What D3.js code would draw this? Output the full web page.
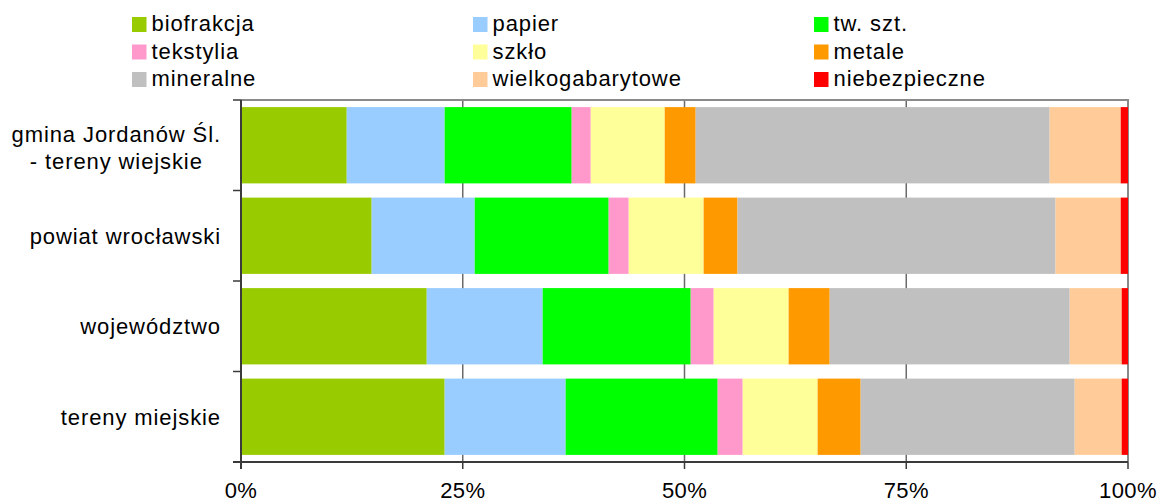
<!DOCTYPE html>
<html>
<head>
<meta charset="utf-8">
<script src="https://cdn.jsdelivr.net/npm/d3@7"></script>
<style>
  html, body { margin: 0; padding: 0; background: #fff; }
  svg { display: block; font-family: "Liberation Sans", Arial, Helvetica, sans-serif; }
</style>
</head>
<body>
<svg id="chart" width="1161" height="504"></svg>
<script>
// Waste composition by area (percent shares of each fraction)
const categories = ["gmina Jordanów Śl. - tereny wiejskie", "powiat wrocławski", "województwo", "tereny miejskie"];
const categoryLines = [["gmina Jordanów Śl.", "- tereny wiejskie"], ["powiat wrocławski"], ["województwo"], ["tereny miejskie"]];

const seriesNames = ["biofrakcja", "papier", "tw. szt.", "tekstylia", "szkło", "metale", "mineralne", "wielkogabarytowe", "niebezpieczne"];
const seriesColors = ["#99CC00", "#99CCFF", "#00FF00", "#FF99CC", "#FFFF99", "#FF9900", "#C0C0C0", "#FFCC99", "#FF0000"];

const biofrakcja       = [11.92, 14.73, 20.94, 22.96];
const papier           = [11.04, 11.62, 13.07, 13.64];
const twSzt            = [14.32, 15.10, 16.69, 17.14];
const tekstylia        = [2.15, 2.26, 2.59, 2.82];
const szklo            = [8.34, 8.45, 8.45, 8.45];
const metale           = [3.49, 3.82, 4.63, 4.85];
const mineralne        = [39.91, 35.85, 27.06, 24.13];
const wielkogabarytowe = [8.01, 7.35, 5.86, 5.30];
const niebezpieczne    = [0.82, 0.82, 0.71, 0.71];

const tickValues = [0, 0.25, 0.5, 0.75, 1];
const tickLabels = ["0%", "25%", "50%", "75%", "100%"];

const seriesValues = [biofrakcja, papier, twSzt, tekstylia, szklo, metale, mineralne, wielkogabarytowe, niebezpieczne];

// Rows for d3.stack: one object per category
const rows = categories.map((c, i) => {
  const r = { category: c };
  seriesNames.forEach((s, j) => { r[s] = seriesValues[j][i]; });
  return r;
});

const svg = d3.select("#chart");
const plotLeft = 241, plotRight = 1128, plotTop = 100, plotBottom = 462;
const fontSize = 22;
const spacing = 0.9;

const x = d3.scaleLinear().domain([0, 1]).range([plotLeft, plotRight]);
const y = d3.scaleBand().domain(categories).range([plotTop, plotBottom])
  .paddingInner(0.157).paddingOuter(0.0785);

const stacked = d3.stack().keys(seriesNames).offset(d3.stackOffsetExpand)(rows);

// Vertical gridlines (behind bars)
svg.append("g").selectAll("line")
  .data(tickValues.slice(1, -1))
  .join("line")
  .attr("x1", d => x(d)).attr("x2", d => x(d))
  .attr("y1", plotTop).attr("y2", plotBottom)
  .attr("stroke", "#6a6a6a").attr("stroke-width", 1.5);

// Plot frame: top and right edges
svg.append("path")
  .attr("d", `M${plotLeft},${plotTop}H${plotRight}V${plotBottom}`)
  .attr("fill", "none").attr("stroke", "#8a8a8a").attr("stroke-width", 2);

// Stacked bars
svg.append("g").selectAll("g")
  .data(stacked)
  .join("g")
  .attr("fill", (d, i) => seriesColors[i])
  .selectAll("rect")
  .data(d => d)
  .join("rect")
  .attr("x", d => x(d[0]))
  .attr("width", d => x(d[1]) - x(d[0]))
  .attr("y", d => y(d.data.category))
  .attr("height", y.bandwidth());

// Value axis (bottom)
const xAxis = svg.append("g").attr("transform", `translate(0,${plotBottom})`);
xAxis.append("line").attr("x1", plotLeft - 8).attr("x2", plotRight).attr("y1", 0).attr("y2", 0)
  .attr("stroke", "#3a3a3a").attr("stroke-width", 2);
xAxis.selectAll("line.tick").data(tickValues).join("line")
  .attr("class", "tick")
  .attr("x1", d => x(d)).attr("x2", d => x(d))
  .attr("y1", 0).attr("y2", 7)
  .attr("stroke", "#3a3a3a").attr("stroke-width", 1.5);
xAxis.selectAll("text").data(tickValues).join("text")
  .attr("x", d => x(d)).attr("y", 36)
  .attr("text-anchor", "middle")
  .attr("font-size", fontSize).attr("fill", "#000")
  .attr("letter-spacing", 0.4)
  .text((d, i) => tickLabels[i]);

// Category axis (left)
const yAxis = svg.append("g");
yAxis.append("line").attr("x1", plotLeft).attr("x2", plotLeft).attr("y1", plotTop).attr("y2", plotBottom + 7)
  .attr("stroke", "#3a3a3a").attr("stroke-width", 2);
const boundaries = categories.map(c => y(c) - y.step() * y.paddingInner() / 2).concat([plotBottom]);
yAxis.selectAll("line.tick").data(boundaries).join("line")
  .attr("class", "tick")
  .attr("x1", plotLeft - 8).attr("x2", plotLeft)
  .attr("y1", d => d).attr("y2", d => d)
  .attr("stroke", "#3a3a3a").attr("stroke-width", 1.5);

const labelRight = plotLeft - 20;
const lineGap = 27;
categories.forEach((c, i) => {
  const lines = categoryLines[i];
  const cy = y(c) + y.bandwidth() / 2;
  const g = yAxis.append("g");
  const texts = lines.map((ln, k) => g.append("text")
    .attr("font-size", fontSize).attr("fill", "#000")
    .attr("letter-spacing", spacing)
    .attr("y", cy + (k - (lines.length - 1) / 2) * lineGap + 8 + (lines.length > 1 ? 2 : 0))
    .text(ln));
  if (lines.length === 1) {
    texts[0].attr("x", labelRight).attr("text-anchor", "end");
  } else {
    const maxW = d3.max(texts, t => t.node().getComputedTextLength());
    texts.forEach(t => t.attr("x", labelRight - maxW / 2).attr("text-anchor", "middle"));
  }
});

// Legend: three columns, three rows
const legendX = [132, 473, 814];
const legendY = [17, 44.5, 72];
const legend = svg.append("g");
seriesNames.forEach((s, i) => {
  const lx = legendX[i % 3], ly = legendY[Math.floor(i / 3)];
  legend.append("rect").attr("x", lx).attr("y", ly).attr("width", 14.5).attr("height", 15)
    .attr("fill", seriesColors[i]);
  legend.append("text").attr("x", lx + 19.5).attr("y", ly + 14)
    .attr("font-size", fontSize).attr("fill", "#000")
    .attr("letter-spacing", spacing).text(s);
});
</script>
</body>
</html>
